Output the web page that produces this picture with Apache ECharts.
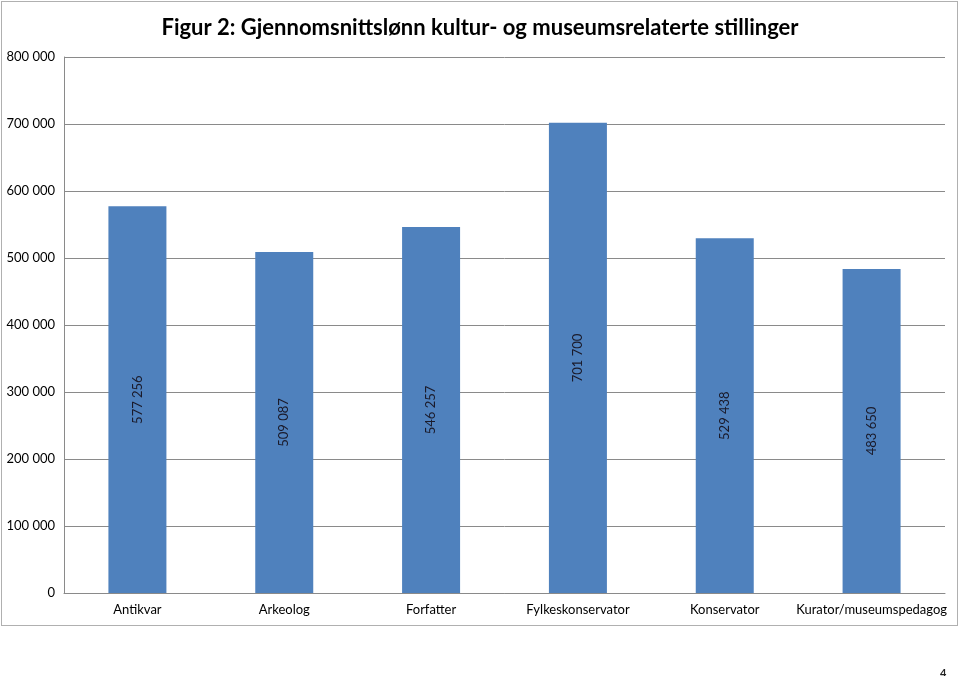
<!DOCTYPE html>
<html>
<head>
<meta charset="utf-8">
<script src="https://cdn.jsdelivr.net/npm/echarts@6/dist/echarts.min.js"></script>
<style>
html,body{margin:0;padding:0;background:#fff;}
#frame{position:absolute;left:1px;top:1px;width:957px;height:625px;border:1px solid #b0b0b0;box-sizing:border-box;}
#chart{position:absolute;left:0;top:0;width:960px;height:676px;}
#page{position:absolute;left:940px;top:666px;font-family:Lato,"Liberation Sans",sans-serif;font-size:11px;font-weight:bold;color:#222;}
</style>
</head>
<body>
<div id="frame"></div>
<div id="chart"></div>
<div id="page">4</div>
<script>
const categories = ["Antikvar","Arkeolog","Forfatter","Fylkeskonservator","Konservator","Kurator/museumspedagog"];
const salaries = [577256, 509087, 546257, 701700, 529438, 483650];
const titleText = "Figur 2: Gjennomsnittslønn kultur- og museumsrelaterte stillinger";

function fmt(v){
  return String(v).replace(/\B(?=(\d{3})+(?!\d))/g, " ");
}

const chart = echarts.init(document.getElementById('chart'), null, {renderer:'canvas'});
chart.setOption({
  animation:false,
  backgroundColor:'transparent',
  title:{
    text:titleText,
    left:'center',
    top:12,
    textStyle:{fontFamily:'Lato,sans-serif',fontWeight:'bold',fontSize:22,color:'#000'}
  },
  grid:{left:64,right:15,top:57,bottom:83,containLabel:false},
  xAxis:{
    type:'category',
    data:categories,
    axisLine:{lineStyle:{color:'#8a8a8a',width:1}},
    axisTick:{show:false},
    axisLabel:{fontFamily:'Lato,sans-serif',fontSize:13,color:'#000',margin:10,interval:0}
  },
  yAxis:{
    type:'value',
    min:0,max:800000,interval:100000,
    axisLine:{show:true,lineStyle:{color:'#8a8a8a',width:1}},
    axisTick:{show:false},
    splitLine:{lineStyle:{color:'#8a8a8a',width:1}},
    axisLabel:{fontFamily:'Lato,sans-serif',fontSize:13,color:'#000',margin:9,formatter:v=>fmt(v)}
  },
  series:[{
    type:'bar',
    data:salaries,
    barWidth:'39.5%',
    itemStyle:{color:'#4f81bd'},
    label:{
      show:true,
      position:'inside',
      rotate:90,
      fontFamily:'Lato,sans-serif',
      fontSize:13,
      color:'#1a1a2a',
      formatter:p=>fmt(p.value)
    }
  }]
});
</script>
</body>
</html>
